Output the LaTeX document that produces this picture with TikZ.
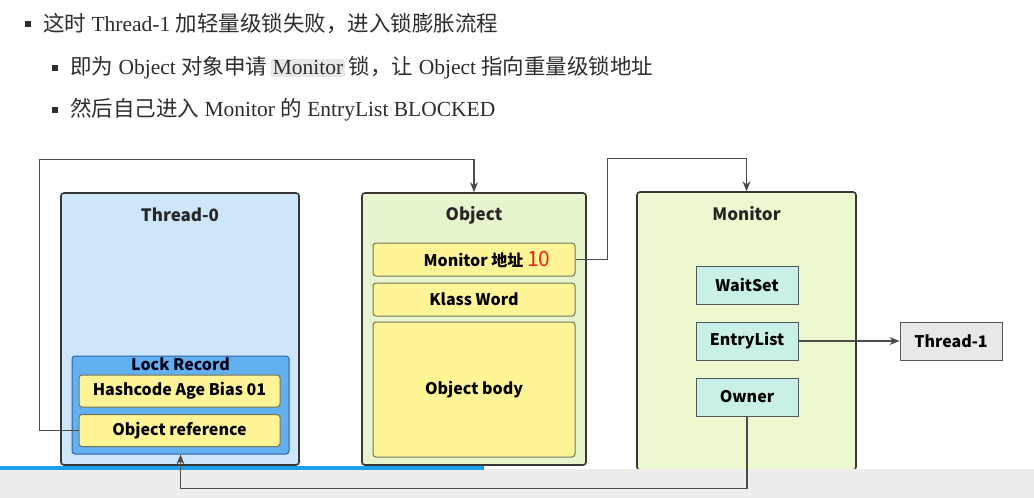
\documentclass[tikz,border=0pt]{standalone}
\usepackage{fontspec}
\setmainfont{Liberation Serif}
\newfontfamily\cjk{Noto Sans CJK SC}
\usetikzlibrary{positioning,arrows.meta}
\newcommand{\zh}[1]{{\cjk #1}}
\definecolor{framec}{RGB}{55,55,55}
\definecolor{tbfill}{RGB}{206,230,250}
\definecolor{lrfill}{RGB}{98,176,240}
\definecolor{lrdraw}{RGB}{45,95,160}
\definecolor{cellfill}{RGB}{255,245,150}
\definecolor{celldraw}{RGB}{115,115,85}
\definecolor{objfill}{RGB}{230,245,205}
\definecolor{monfill}{RGB}{236,248,206}
\definecolor{slotfill}{RGB}{200,240,230}
\definecolor{slotdraw}{RGB}{80,90,90}
\definecolor{thfill}{RGB}{232,232,232}
\definecolor{linkc}{RGB}{75,75,75}
\definecolor{hl}{RGB}{232,232,232}
\definecolor{headc}{RGB}{45,45,45}
\definecolor{barblue}{RGB}{25,160,230}
\definecolor{numred}{RGB}{240,35,25}
\tikzset{
  frame/.style={draw=framec, line width=1.6pt, rounded corners=3pt},
  cell/.style={draw=celldraw, fill=cellfill, line width=1pt, rounded corners=3pt,
    minimum width=201pt, minimum height=32pt, font=\cjk\bfseries\fontsize{16}{16}\selectfont},
  slot/.style={draw=slotdraw, fill=slotfill, line width=1pt, minimum width=102pt,
    minimum height=38pt, font=\cjk\bfseries\fontsize{16}{16}\selectfont},
  title/.style={font=\cjk\bfseries\fontsize{17}{17}\selectfont, text=black!85},
  head/.style={anchor=west, inner sep=0pt, text=headc, font=\fontsize{21.5}{24}\selectfont},
  bullet/.style={fill=headc, minimum size=6pt, inner sep=0pt},
  link/.style={draw=linkc, line width=1.1pt},
  >={Stealth[length=10pt,width=8pt]},
}
\begin{document}
\begin{tikzpicture}[x=1pt, y=-1pt]
  \useasboundingbox (0,0) rectangle (1034,498);
  \fill[white] (0,0) rectangle (1034,498);
  % header
  \node[bullet] (b1) at (28,24) {};
  \node[bullet] (b2) at (55,68) {};
  \node[bullet] (b3) at (55,110) {};
  \node[head] (h1) at (43,24) {\zh{这时} Thread-1 \zh{加轻量级锁失败，进入锁膨胀流程}};
  \node[head] (h2) at (70,68) {\zh{即为} Object \zh{对象申请}\,\setlength\fboxsep{2pt}\colorbox{hl}{Monitor}\,\zh{锁，让} Object \zh{指向重量级锁地址}};
  \node[head] (h3) at (70,110) {\zh{然后自己进入} Monitor \zh{的} EntryList BLOCKED};
  % Thread-0
  \node[frame, fill=tbfill, minimum width=238pt, minimum height=272pt] (thread0) at (180,329) {};
  \node[title] (t0) at (180,215) {Thread-0};
  \node[draw=lrdraw, fill=lrfill, line width=1pt, rounded corners=3pt,
    minimum width=217pt, minimum height=98pt] (lockrec) at (180.5,405) {};
  \node[title, text=black!90!blue, font=\cjk\bfseries\fontsize{16}{16}\selectfont] (lrt) at (180.5,364) {Lock Record};
  \node[cell] (hash) at (179.5,391) {Hashcode Age Bias 01};
  \node[cell] (objref) at (179.5,430.5) {Object reference};
  % Object
  \node[frame, fill=objfill, minimum width=224pt, minimum height=272pt] (object) at (474,329) {};
  \node[title] (t1) at (474,215) {Object};
  \node[cell, minimum width=202pt, minimum height=33pt] (monaddr) at (474,259.5)
    {\hspace*{26pt}Monitor 地址 {\color{numred}\mdseries\fontsize{21}{21}\selectfont 10}};
  \node[cell, minimum width=202pt, minimum height=33pt] (klass) at (474,299.5) {Klass Word};
  \node[cell, minimum width=202pt, minimum height=135pt] (body) at (474,389.5) {Object body};
  % Monitor
  \node[frame, fill=monfill, minimum width=219pt, minimum height=278pt] (monitor) at (746.5,331) {};
  \node[title] (t2) at (746.5,214) {Monitor};
  \node[slot] (waitset) at (747,285) {WaitSet};
  \node[slot] (entry) at (747,341) {EntryList};
  \node[slot] (owner) at (747,397) {Owner};
  \node[slot, fill=thfill, minimum width=102pt] (thread1) at (951,341) {Thread-1};
  % video bar
  \fill[gray!14] (0,469) rectangle (1034,498);
  \fill[barblue] (0,466) rectangle (484,470);
  % links
  \draw[link,->] (objref.west) -- ++(-39,0) |- ([yshift=33pt]object.north) -- (object.north);
  \draw[link,->] (monaddr.east) -- ++(32,0) |- ([yshift=33pt]monitor.north) -- (monitor.north);
  \draw[link,->] (entry.east) -- (thread1.west);
  \draw[link,->] (owner.south) -- ++(0,72) -| (lockrec.south);
\end{tikzpicture}
\end{document}
